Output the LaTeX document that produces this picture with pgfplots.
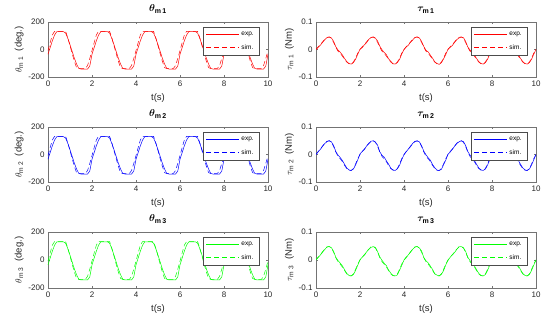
\documentclass[border=0pt]{standalone}
\usepackage{fontspec}
\setmainfont{Liberation Sans}
\usepackage{bm}
\usepackage{pgfplots}
\usepackage{pgfplotstable}
\pgfplotsset{compat=1.18}
\pgfplotstableread{
t the ths t1e t1s t2e t2s t3e t3s
0.0 -35 -8 0.000 0.000 0.000 0.000 0.000 0.000
0.1 15 51 0.008 0.010 0.010 0.011 0.009 0.011
0.2 64 107 0.016 0.018 0.019 0.020 0.018 0.019
0.3 106 132 0.026 0.028 0.030 0.031 0.028 0.030
0.4 130 132 0.036 0.037 0.040 0.041 0.038 0.039
0.5 130 132 0.043 0.044 0.047 0.048 0.046 0.047
0.6 130 132 0.045 0.046 0.050 0.050 0.048 0.048
0.7 130 132 0.042 0.041 0.046 0.045 0.044 0.043
0.8 120 132 0.030 0.026 0.033 0.029 0.031 0.028
0.9 81 85 0.010 0.008 0.011 0.009 0.010 0.008
1.0 35 28 -0.002 -0.006 -0.002 -0.007 -0.002 -0.006
1.1 -15 -31 -0.010 -0.014 -0.011 -0.015 -0.011 -0.015
1.2 -64 -87 -0.020 -0.024 -0.022 -0.026 -0.021 -0.025
1.3 -106 -132 -0.033 -0.036 -0.036 -0.040 -0.035 -0.038
1.4 -138 -138 -0.044 -0.046 -0.049 -0.051 -0.048 -0.050
1.5 -142 -138 -0.051 -0.052 -0.056 -0.057 -0.055 -0.056
1.6 -142 -138 -0.053 -0.053 -0.058 -0.058 -0.057 -0.057
1.7 -142 -138 -0.048 -0.046 -0.053 -0.051 -0.052 -0.050
1.8 -142 -116 -0.035 -0.031 -0.038 -0.034 -0.037 -0.033
1.9 -120 -65 -0.017 -0.013 -0.019 -0.015 -0.018 -0.014
2.0 -35 -8 0.001 0.000 0.002 0.000 0.001 0.000
2.1 15 51 0.007 0.010 0.011 0.011 0.010 0.011
2.2 64 107 0.017 0.018 0.018 0.020 0.017 0.019
2.3 106 132 0.025 0.028 0.031 0.031 0.029 0.030
2.4 130 132 0.037 0.037 0.039 0.041 0.038 0.039
2.5 130 132 0.043 0.044 0.048 0.048 0.045 0.047
2.6 130 132 0.045 0.046 0.050 0.050 0.048 0.048
2.7 130 132 0.041 0.041 0.045 0.045 0.045 0.043
2.8 120 132 0.031 0.026 0.034 0.029 0.030 0.028
2.9 81 85 0.012 0.008 0.010 0.009 0.011 0.008
3.0 35 28 -0.001 -0.006 -0.003 -0.007 -0.001 -0.006
3.1 -15 -31 -0.011 -0.014 -0.010 -0.015 -0.012 -0.015
3.2 -64 -87 -0.019 -0.024 -0.023 -0.026 -0.020 -0.025
3.3 -106 -132 -0.034 -0.036 -0.035 -0.040 -0.036 -0.038
3.4 -138 -138 -0.043 -0.046 -0.050 -0.051 -0.047 -0.050
3.5 -142 -138 -0.052 -0.052 -0.056 -0.057 -0.055 -0.056
3.6 -142 -138 -0.053 -0.053 -0.058 -0.058 -0.057 -0.057
3.7 -142 -138 -0.047 -0.046 -0.052 -0.051 -0.053 -0.050
3.8 -142 -116 -0.036 -0.031 -0.039 -0.034 -0.036 -0.033
3.9 -120 -65 -0.016 -0.013 -0.018 -0.015 -0.019 -0.014
4.0 -35 -8 0.000 0.000 -0.001 0.000 0.000 0.000
4.1 15 51 0.009 0.010 0.010 0.011 0.008 0.011
4.2 64 107 0.016 0.018 0.020 0.020 0.019 0.019
4.3 106 132 0.027 0.028 0.029 0.031 0.028 0.030
4.4 130 132 0.035 0.037 0.041 0.041 0.039 0.039
4.5 130 132 0.044 0.044 0.047 0.048 0.046 0.047
4.6 130 132 0.045 0.046 0.049 0.050 0.048 0.048
4.7 130 132 0.042 0.041 0.046 0.045 0.043 0.043
4.8 120 132 0.029 0.026 0.032 0.029 0.032 0.028
4.9 81 85 0.011 0.008 0.012 0.009 0.009 0.008
5.0 35 28 -0.003 -0.006 -0.001 -0.007 -0.003 -0.006
5.1 -15 -31 -0.009 -0.014 -0.012 -0.015 -0.010 -0.015
5.2 -64 -87 -0.021 -0.024 -0.021 -0.026 -0.022 -0.025
5.3 -106 -132 -0.032 -0.036 -0.037 -0.040 -0.034 -0.038
5.4 -138 -138 -0.045 -0.046 -0.048 -0.051 -0.049 -0.050
5.5 -142 -138 -0.051 -0.052 -0.057 -0.057 -0.054 -0.056
5.6 -142 -138 -0.054 -0.053 -0.058 -0.058 -0.057 -0.057
5.7 -142 -138 -0.048 -0.046 -0.054 -0.051 -0.051 -0.050
5.8 -142 -116 -0.034 -0.031 -0.037 -0.034 -0.038 -0.033
5.9 -120 -65 -0.018 -0.013 -0.020 -0.015 -0.017 -0.014
6.0 -35 -8 0.001 0.000 0.001 0.000 -0.001 0.000
6.1 15 51 0.008 0.010 0.009 0.011 0.010 0.011
6.2 64 107 0.015 0.018 0.019 0.020 0.018 0.019
6.3 106 132 0.026 0.028 0.030 0.031 0.027 0.030
6.4 130 132 0.036 0.037 0.040 0.041 0.038 0.039
6.5 130 132 0.042 0.044 0.046 0.048 0.047 0.047
6.6 130 132 0.045 0.046 0.050 0.050 0.048 0.048
6.7 130 132 0.043 0.041 0.047 0.045 0.044 0.043
6.8 120 132 0.030 0.026 0.033 0.029 0.031 0.028
6.9 81 85 0.009 0.008 0.011 0.009 0.010 0.008
7.0 35 28 -0.002 -0.006 -0.002 -0.007 -0.002 -0.006
7.1 -15 -31 -0.010 -0.014 -0.011 -0.015 -0.011 -0.015
7.2 -64 -87 -0.020 -0.024 -0.022 -0.026 -0.021 -0.025
7.3 -106 -132 -0.033 -0.036 -0.036 -0.040 -0.035 -0.038
7.4 -138 -138 -0.044 -0.046 -0.049 -0.051 -0.048 -0.050
7.5 -142 -138 -0.051 -0.052 -0.056 -0.057 -0.055 -0.056
7.6 -142 -138 -0.053 -0.053 -0.058 -0.058 -0.057 -0.057
7.7 -142 -138 -0.048 -0.046 -0.053 -0.051 -0.052 -0.050
7.8 -142 -116 -0.035 -0.031 -0.038 -0.034 -0.037 -0.033
7.9 -120 -65 -0.017 -0.013 -0.019 -0.015 -0.018 -0.014
8.0 -35 -8 0.000 0.000 0.000 0.000 0.000 0.000
8.1 15 51 0.008 0.010 0.010 0.011 0.009 0.011
8.2 64 107 0.017 0.018 0.019 0.020 0.018 0.019
8.3 106 132 0.026 0.028 0.030 0.031 0.029 0.030
8.4 130 132 0.036 0.037 0.040 0.041 0.038 0.039
8.5 130 132 0.043 0.044 0.047 0.048 0.046 0.047
8.6 130 132 0.045 0.046 0.050 0.050 0.048 0.048
8.7 130 132 0.042 0.041 0.046 0.045 0.044 0.043
8.8 120 132 0.030 0.026 0.033 0.029 0.031 0.028
8.9 81 85 0.010 0.008 0.011 0.009 0.010 0.008
9.0 35 28 -0.002 -0.006 -0.002 -0.007 -0.002 -0.006
9.1 -15 -31 -0.010 -0.014 -0.011 -0.015 -0.011 -0.015
9.2 -64 -87 -0.020 -0.024 -0.022 -0.026 -0.021 -0.025
9.3 -106 -132 -0.033 -0.036 -0.036 -0.040 -0.035 -0.038
9.4 -138 -138 -0.044 -0.046 -0.049 -0.051 -0.048 -0.050
9.5 -142 -138 -0.051 -0.052 -0.056 -0.057 -0.055 -0.056
9.6 -142 -138 -0.053 -0.053 -0.058 -0.058 -0.057 -0.057
9.7 -142 -138 -0.048 -0.046 -0.053 -0.051 -0.052 -0.050
9.8 -142 -116 -0.035 -0.031 -0.038 -0.034 -0.037 -0.033
9.9 -120 -65 -0.017 -0.013 -0.019 -0.015 -0.018 -0.014
10.0 -35 -8 0.000 0.000 0.000 0.000 0.000 0.000
}\data
\pgfplotsset{legend image code/.code={\draw[#1] (0pt,0pt) -- (33pt,0pt);}}
\pgfplotsset{
  panel/.style={
    scale only axis, width=220pt, height=55pt,
    anchor=south west,
    xmin=0, xmax=10, xtick={0,2,4,6,8,10},
    tick align=inside, major tick length=2pt,
    axis line style={black!55},
    every tick/.style={black!55},
    tick label style={font=\fontsize{8}{9}\selectfont, text=black!85},
    /pgf/number format/assume math mode=true,
    label style={font=\fontsize{9.5}{11}\selectfont, text=black!85},
    ylabel style={yshift=-2pt},
    xlabel style={yshift=-1pt},
    title style={font=\fontsize{10}{11}\selectfont, yshift=-1pt},
    xlabel={t(s)},
    scaled y ticks=false,
    legend style={at={(0.959,0.904)}, anchor=north east, draw=black!70, fill=white,
      inner xsep=3pt, inner ysep=2.5pt, row sep=3.5pt,
      font=\fontsize{6.5}{7}\selectfont},
    legend cell align=left,
  },
  thpanel/.style={panel, ymin=-200, ymax=200, ytick={-200,0,200}},
  tapanel/.style={panel, ymin=-0.1, ymax=0.1, ytick={-0.1,0,0.1}},
  expl/.style={line width=0.5pt},
  siml/.style={line width=0.5pt, dash pattern=on 5pt off 3pt},
}
\begin{document}
\begin{tikzpicture}
\useasboundingbox (0,0) rectangle (550pt,322pt);
% row 1
\begin{axis}[thpanel, at={(48pt,245pt)}, title={$\bm{\theta}_{\mathbf{m\,1}}$}, ylabel={$\theta_{\mathrm{m\;1}}$\ \ (deg.)}]
\addplot[expl, color=red, no marks] table[x=t, y=the] {\data};
\addplot[siml, color=red, no marks] table[x=t, y=ths] {\data};
\legend{exp., sim.}
\end{axis}
\begin{axis}[tapanel, at={(316pt,245pt)}, title={$\bm{\tau}_{\mathbf{m\,1}}$}, ylabel={$\tau_{\mathrm{m\;1}}$\ \ (Nm)}]
\addplot[expl, color=red, no marks] table[x=t, y=t1e] {\data};
\addplot[siml, color=red, no marks] table[x=t, y=t1s] {\data};
\legend{exp., sim.}
\end{axis}
% row 2
\begin{axis}[thpanel, at={(48pt,140pt)}, title={$\bm{\theta}_{\mathbf{m\,2}}$}, ylabel={$\theta_{\mathrm{m\;2}}$\ \ (deg.)}]
\addplot[expl, color=blue, no marks] table[x=t, y=the] {\data};
\addplot[siml, color=blue, no marks] table[x=t, y=ths] {\data};
\legend{exp., sim.}
\end{axis}
\begin{axis}[tapanel, at={(316pt,140pt)}, title={$\bm{\tau}_{\mathbf{m\,2}}$}, ylabel={$\tau_{\mathrm{m\;2}}$\ \ (Nm)}]
\addplot[expl, color=blue, no marks] table[x=t, y=t2e] {\data};
\addplot[siml, color=blue, no marks] table[x=t, y=t2s] {\data};
\legend{exp., sim.}
\end{axis}
% row 3
\begin{axis}[thpanel, at={(48pt,34pt)}, height=56pt, title={$\bm{\theta}_{\mathbf{m\,3}}$}, ylabel={$\theta_{\mathrm{m\;3}}$\ \ (deg.)}]
\addplot[expl, color=green, no marks] table[x=t, y=the] {\data};
\addplot[siml, color=green, no marks] table[x=t, y=ths] {\data};
\legend{exp., sim.}
\end{axis}
\begin{axis}[tapanel, at={(316pt,34pt)}, height=56pt, title={$\bm{\tau}_{\mathbf{m\,3}}$}, ylabel={$\tau_{\mathrm{m\;3}}$\ \ (Nm)}]
\addplot[expl, color=green, no marks] table[x=t, y=t3e] {\data};
\addplot[siml, color=green, no marks] table[x=t, y=t3s] {\data};
\legend{exp., sim.}
\end{axis}
\end{tikzpicture}
\end{document}
